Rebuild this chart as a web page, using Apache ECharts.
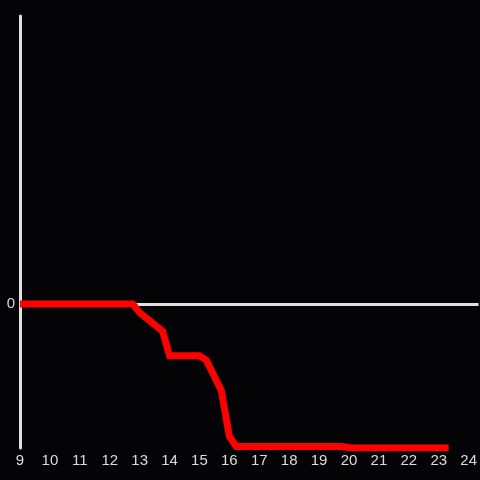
<!DOCTYPE html>
<html><head><meta charset="utf-8">
<script src="https://cdn.jsdelivr.net/npm/echarts@6/dist/echarts.min.js"></script>
<style>html,body{margin:0;padding:0;background:#040306;}#c{width:480px;height:480px;}</style>
</head><body><div id="c"></div>
<script>
const hours = [9, 12.77, 13.0, 13.77, 14.0, 15.0, 15.23, 15.73, 16.0, 16.23, 19.77, 20.07, 21.0, 23.33];
const values = [0, 0, -0.06, -0.19, -0.36, -0.36, -0.39, -0.6, -0.92, -0.99, -0.99, -1.0, -1.0, -1.0];
const xTicks = [9,10,11,12,13,14,15,16,17,18,19,20,21,22,23,24];
const yTickLabels = ['0'];

const chart = echarts.init(document.getElementById('c'), null, {renderer: 'canvas'});
chart.setOption({
  backgroundColor: '#040306',
  animation: false,
  grid: {left: 20, right: 0, top: 16, bottom: 32, containLabel: false},
  xAxis: {
    type: 'value', min: 9, max: 24.33, interval: 1,
    axisLine: {show: false, onZero: false},
    axisTick: {show: false},
    splitLine: {show: false},
    axisLabel: {color: '#dcdcdc', fontSize: 15, fontFamily: 'Liberation Sans', margin: 5,
      showMaxLabel: false,
      formatter: v => xTicks.includes(v) ? String(v) : ''}
  },
  yAxis: {
    type: 'value', min: -1, max: 2, interval: 1,
    axisLine: {show: true, lineStyle: {color: '#e0e0e0', width: 3}},
    axisTick: {show: false},
    splitLine: {show: true, lineStyle: {color: ['transparent', '#e0e0e0', 'transparent', 'transparent'], width: 3}},
    axisLabel: {color: '#dcdcdc', fontSize: 15, fontFamily: 'Liberation Sans', margin: 5,
      formatter: v => yTickLabels.includes(String(v)) ? String(v) : ''}
  },
  series: [{
    type: 'line',
    data: hours.map((h, i) => [h, values[i]]),
    showSymbol: false,
    lineStyle: {color: '#ff0000', width: 7, join: 'miter'},
    itemStyle: {color: '#ff0000'}
  }]
});
</script></body></html>
